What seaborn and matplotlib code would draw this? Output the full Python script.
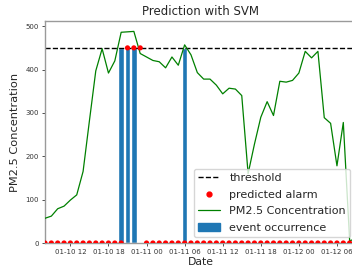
import numpy as np
import pandas as pd
import seaborn as sns
import matplotlib
matplotlib.use("Agg")
import matplotlib.pyplot as plt
import matplotlib.dates as mdates
from matplotlib.lines import Line2D
from matplotlib.patches import Patch

sns.set_style("ticks")

# hourly readings, 01-10 08:00 -> 01-12 09:00
times = pd.date_range("2018-01-10 08:00", periods=50, freq="h")
pm25 = [57, 62, 79, 85, 99, 111, 165, 282, 397, 448,
        392, 420, 486, 487, 488, 437, 429, 421, 418, 404,
        429, 410, 457, 434, 393, 378, 378, 364, 344, 357,
        355, 340, 160, 228, 290, 326, 294, 373, 371, 375,
        392, 442, 427, 442, 289, 276, 178, 278, 5, 10]
alarm_hours = [21, 22, 23]          # hours since 01-10 00:00
event_hours = [20, 21, 22, 30]
threshold = 450

df = pd.DataFrame({"time": times, "pm25": pm25})
hrs = (df.time - pd.Timestamp("2018-01-10")).dt.total_seconds() / 3600
df["alarm"] = np.where(hrs.isin(alarm_hours), threshold, 0)
df["event"] = np.where(hrs.isin(event_hours), threshold, 0)

fig = plt.figure(figsize=(3.52, 2.68), dpi=100)
ax = fig.add_axes([45/352, 25/268, 311/352, 222/268])

ev = df[df.event > 0]
ax.bar(ev.time, ev.event, width=0.035, color="#1f77b4", zorder=1)
ax.axhline(threshold, color="black", ls="--", lw=1.0, zorder=2)
sns.lineplot(data=df, x="time", y="pm25", color="green", lw=0.9, ax=ax, zorder=3)
sns.scatterplot(data=df, x="time", y="alarm", color="red", s=14, edgecolor="none",
                ax=ax, zorder=4)

ax.set_xlim(df.time.iloc[0], df.time.iloc[-1])
ax.set_ylim(0, 512)
ax.xaxis.set_major_locator(mdates.HourLocator(byhour=[0, 6, 12, 18]))
ax.xaxis.set_major_formatter(mdates.DateFormatter("%m-%d %H"))
ax.tick_params(labelsize=5, length=2.5, width=0.6, pad=2, colors="#333333")
for s in ax.spines.values():
    s.set_color("#9a9a9a")
    s.set_linewidth(1.0)

ax.set_title("Prediction with SVM", fontsize=8.5, pad=4)
ax.set_xlabel("Date", fontsize=7.8, labelpad=1)
ax.set_ylabel("PM2.5 Concentration", fontsize=8.2, labelpad=4)

handles = [Line2D([], [], color="black", ls="--", lw=1.0),
           Line2D([], [], color="red", marker="o", ls="none", ms=3.5),
           Line2D([], [], color="green", lw=0.9),
           Patch(color="#1f77b4")]
labels = ["threshold", "predicted alarm", "PM2.5 Concentration", "event occurrence"]
ax.legend(handles, labels, loc="lower right", fontsize=8, framealpha=0.8,
          handlelength=2, labelspacing=0.6, borderpad=0.4)

fig.savefig("out.png", dpi=100)
